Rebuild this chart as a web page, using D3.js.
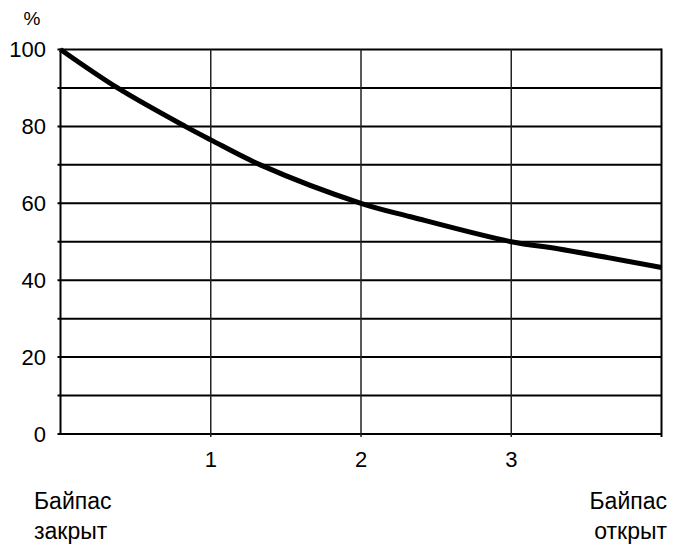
<!DOCTYPE html>
<html><head><meta charset="utf-8">
<script src="https://cdn.jsdelivr.net/npm/d3@7/dist/d3.min.js"></script>
<style>body{margin:0;background:#fff}svg{display:block}text{font-family:"Liberation Sans",Arial,sans-serif;fill:#000}</style>
</head><body>
<script>
const xValues = [0, 0.38, 0.83, 1, 1.33, 2, 2.33, 3, 3.32, 4];
const yValues = [100, 90, 80, 76.5, 70, 60, 56.5, 50, 48.1, 43.3];
const xTicks = [1, 2, 3];
const yLabelTicks = [0, 20, 40, 60, 80, 100];
const yGridTicks = [0,10,20,30,40,50,60,70,80,90,100];
const unitLabel = "%";
const leftLabel = ["Байпас", "закрыт"];
const rightLabel = ["Байпас", "открыт"];

const W = 675, H = 545;
const svg = d3.select("body").append("svg").attr("width", W).attr("height", H);
const x = d3.scaleLinear().domain([0, 4]).range([60.5, 661.5]);
const y = d3.scaleLinear().domain([0, 100]).range([434, 49.5]);

// horizontal grid
svg.append("g").selectAll("line").data(yGridTicks).join("line")
  .attr("x1", x(0) - 3).attr("x2", x(4))
  .attr("y1", d => y(d)).attr("y2", d => y(d))
  .attr("stroke", "#000").attr("stroke-width", 2);
// vertical grid
svg.append("g").selectAll("line").data(xTicks).join("line")
  .attr("x1", d => x(d)).attr("x2", d => x(d))
  .attr("y1", y(100)).attr("y2", y(0) + 3)
  .attr("stroke", "#222").attr("stroke-width", 1.5);
// right border
svg.append("line").attr("x1", x(4)).attr("x2", x(4)).attr("y1", y(100) - 1).attr("y2", y(0) + 3)
  .attr("stroke", "#000").attr("stroke-width", 2);
// left axis
svg.append("line").attr("x1", x(0)).attr("x2", x(0)).attr("y1", y(100) - 1).attr("y2", y(0) + 1)
  .attr("stroke", "#000").attr("stroke-width", 2);

// y labels
svg.append("g").selectAll("text").data(yLabelTicks).join("text")
  .attr("x", 46).attr("y", d => y(d)).attr("dy", "0.36em")
  .attr("text-anchor", "end").attr("font-size", 22).text(d => d);
svg.append("text").attr("x", 32).attr("y", 25).attr("text-anchor", "middle").attr("font-size", 19).text(unitLabel);
// x labels
svg.append("g").selectAll("text").data(xTicks).join("text")
  .attr("x", d => x(d)).attr("y", 467).attr("text-anchor", "middle").attr("font-size", 22).text(d => d);

svg.append("g").selectAll("text").data(leftLabel).join("text")
  .attr("x", 34).attr("y", (d, i) => 509 + i * 30).attr("font-size", 23).text(d => d);
svg.append("g").selectAll("text").data(rightLabel).join("text")
  .attr("x", 667).attr("y", (d, i) => 509 + i * 30).attr("text-anchor", "end").attr("font-size", 23).text(d => d);

// curve
const pts = xValues.map((v, i) => [v, yValues[i]]);
svg.append("path").datum(pts)
  .attr("d", d3.line().x(d => x(d[0])).y(d => y(d[1])).curve(d3.curveCatmullRom))
  .attr("fill", "none").attr("stroke", "#000").attr("stroke-width", 5).attr("stroke-linecap", "butt");
</script>
</body></html>
